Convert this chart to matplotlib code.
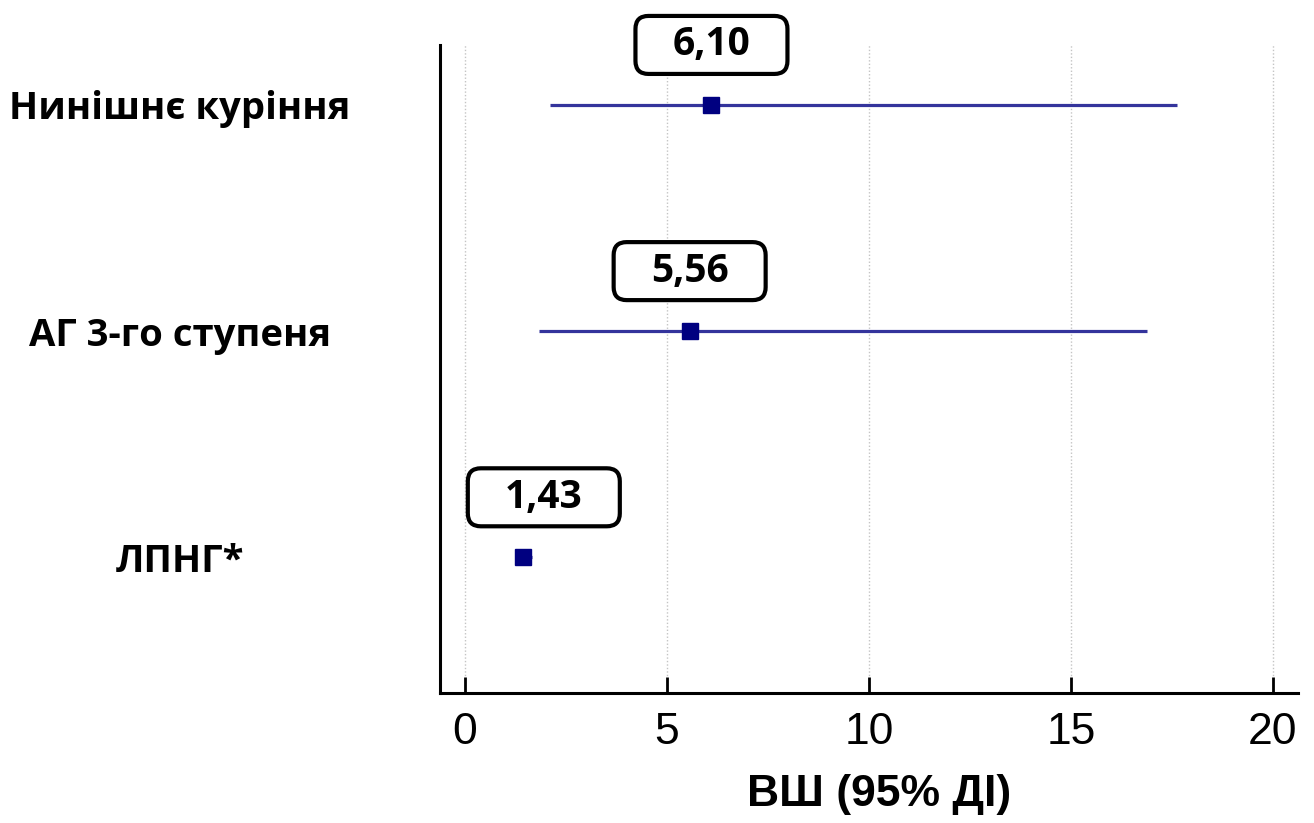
import matplotlib
matplotlib.use("Agg")
import matplotlib.pyplot as plt
import matplotlib.transforms as mtransforms
from matplotlib.patches import FancyBboxPatch

# forest plot data
factors = ["Нинішнє куріння", "АГ 3-го ступеня", "ЛПНГ*"]
odds_ratio = [6.10, 5.56, 1.43]
ci_low = [2.10, 1.83, 1.23]
ci_high = [17.63, 16.88, 1.66]
x_ticks = [0, 5, 10, 15, 20]

W, H = 1314, 823
fig = plt.figure(figsize=(W / 100, H / 100), dpi=100)
ax = fig.add_axes([440 / W, 1 - 693 / H, (1298 - 440) / W, (693 - 45) / H])

rows = list(range(len(factors)))[::-1]  # first factor on top

for y, v, lo, hi in zip(rows, odds_ratio, ci_low, ci_high):
    ax.plot([lo, hi], [y, y], color="#34349c", lw=2.3, solid_capstyle="butt", zorder=3)
    ax.plot(v, y, marker="s", ms=11.5, color="#000080", mec="#000080", zorder=4)

    # value box above the point, kept clear of the y axis
    xc = max(v, 1.95)
    trans = fig.dpi_scale_trans + mtransforms.ScaledTranslation(xc, y, ax.transData)
    box = FancyBboxPatch((-0.76, 0.60 - 0.29), 1.52, 0.58,
                         boxstyle="round,pad=0,rounding_size=0.13",
                         transform=trans, facecolor="white", edgecolor="black",
                         lw=3, zorder=5, clip_on=False)
    ax.add_patch(box)
    ax.annotate(f"{v:.2f}".replace(".", ","), xy=(xc, y), xytext=(0, 60 * 0.72),
                textcoords="offset points", ha="center", va="center",
                fontsize=28, fontweight="bold", family="Open Sans", zorder=6)

ax.set_xlim(-0.62, 20.62)
ax.set_ylim(-0.60, 2.265)

ax.set_xticks(x_ticks)
ax.set_xticklabels([str(t) for t in x_ticks], family="Liberation Sans", fontsize=32)
ax.tick_params(axis="x", direction="in", length=11.5, width=2, pad=14)
ax.xaxis.grid(True, linestyle=(0, (1, 1.5)), color="#c4c4c4", lw=1)
ax.set_axisbelow(True)

ax.set_yticks(rows)
ax.set_yticklabels(factors, family="Open Sans", fontweight="bold", fontsize=27.5)
ax.tick_params(axis="y", length=0, pad=(440 - 180) * 0.72)
for lab in ax.get_yticklabels():
    lab.set_horizontalalignment("center")

ax.set_xlabel("ВШ (95% ДІ)", family="Liberation Sans", fontweight="bold",
              fontsize=32, labelpad=15)
ax.xaxis.label.set_x(0.512)

for side in ["top", "right"]:
    ax.spines[side].set_visible(False)
for side in ["left", "bottom"]:
    ax.spines[side].set_linewidth(2.2)

fig.savefig("out.png", dpi=100)
